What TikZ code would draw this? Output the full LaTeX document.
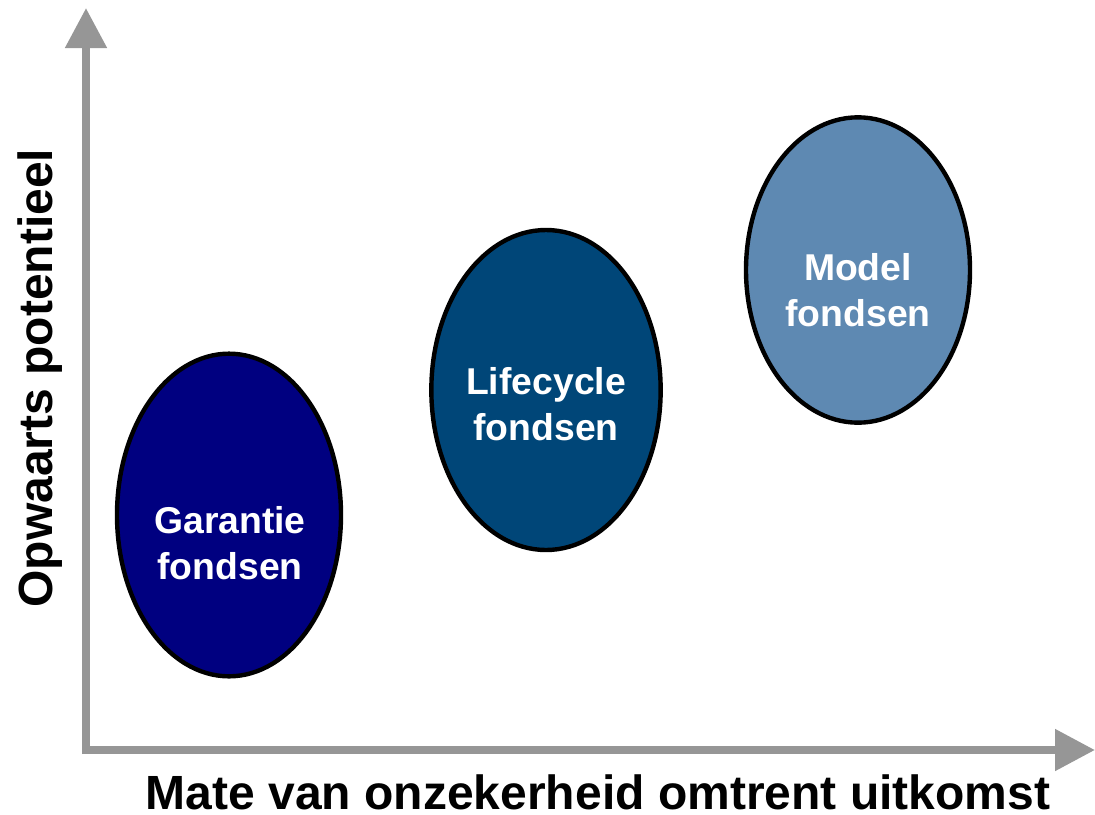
\documentclass[tikz,border=0pt]{standalone}
\usepackage{fontspec}
\setmainfont{Liberation Sans}
\usetikzlibrary{arrows.meta,shapes.geometric}
\definecolor{axisgray}{RGB}{150,150,150}
\definecolor{garfill}{RGB}{0,0,128}
\definecolor{lifefill}{RGB}{0,70,120}
\definecolor{modelfill}{RGB}{94,137,178}
\tikzset{
  axisline/.style={draw=axisgray, line width=6pt, -{Triangle[length=30pt,width=30pt]}},
  fund/.style={ellipse, draw=black, line width=3.3pt, inner sep=0pt},
  fundtext/.style={text=white, font=\fontsize{28}{34}\selectfont\bfseries, align=center},
  axistext/.style={text=black, inner sep=0pt, font=\fontsize{36}{40}\selectfont\bfseries}
}
\begin{document}
\begin{tikzpicture}[x=0.75pt,y=-0.75pt]
\useasboundingbox (0,0) rectangle (1095,814);
\coordinate (origin) at (86,750);
\coordinate (ytip) at (86,8);
\coordinate (xtip) at (1095,750);
\draw[axisline] ([yshift=-3pt]origin) -- (ytip);
\draw[axisline] ([xshift=-3pt]origin) -- (xtip);
\node[fund, fill=garfill, minimum width=168pt, minimum height=242pt] (gar) at (229,515) {};
\node[fund, fill=lifefill, minimum width=172pt, minimum height=240pt] (life) at (546,390) {};
\node[fund, fill=modelfill, minimum width=168pt, minimum height=229pt] (model) at (858,270) {};
\node[fundtext] (gart) at (230,543) {Garantie\\fondsen};
\node[fundtext] (lifet) at (546,404) {Lifecycle\\fondsen};
\node[fundtext] (modelt) at (858,290) {Model\\fondsen};
\node[axistext] (xlab) at (598,792) {Mate van onzekerheid omtrent uitkomst};
\node[axistext, rotate=90] (ylab) at (40,378) {Opwaarts potentieel};
\end{tikzpicture}
\end{document}
